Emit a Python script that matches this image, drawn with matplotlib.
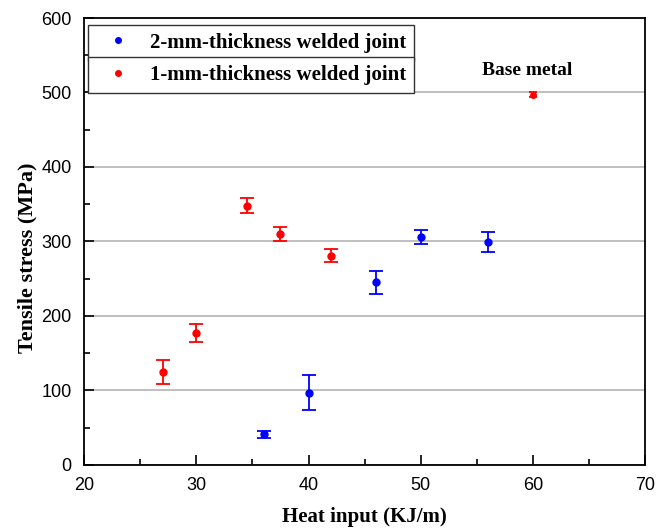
import matplotlib.pyplot as plt
from matplotlib.lines import Line2D

# 2-mm-thickness welded joint
x_2mm = [36, 40, 46, 50, 56]
y_2mm = [41, 97, 245, 306, 299]
err_2mm = [5, 23, 15, 10, 13]

# 1-mm-thickness welded joint
x_1mm = [27, 30, 34.5, 37.5, 42]
y_1mm = [125, 177, 348, 310, 281]
err_1mm = [16, 12, 10, 10, 9]

# base metal
x_base = [60]
y_base = [497]
err_base = [3]

serif = 'Liberation Serif'
sans = 'Liberation Sans'

fig = plt.figure(figsize=(6.57, 5.30), dpi=100)
ax = fig.add_axes([0.128, 0.123, 0.854, 0.843])

ax.errorbar(x_2mm, y_2mm, yerr=err_2mm, fmt='o', color='#0000ff', ms=5,
            capsize=5, elinewidth=1.3, capthick=1.3, zorder=3)
ax.errorbar(x_1mm, y_1mm, yerr=err_1mm, fmt='o', color='#ff0000', ms=5,
            capsize=5, elinewidth=1.3, capthick=1.3, zorder=3)
ax.errorbar(x_base, y_base, yerr=err_base, fmt='o', color='#ff0000', ms=4,
            capsize=3, elinewidth=1.3, capthick=1.3, zorder=3)

ax.text(59.5, 529, 'Base metal', ha='center', va='center',
        fontsize=14, fontweight='bold', family=serif)

ax.set_xlim(20, 70)
ax.set_ylim(0, 600)
ax.set_xticks(range(20, 71, 10))
ax.set_xticks(range(25, 70, 10), minor=True)
ax.set_yticks(range(0, 601, 100))
ax.set_yticks(range(50, 600, 100), minor=True)
ax.tick_params(which='both', direction='in', top=False, right=False)
ax.tick_params(which='major', length=7, width=1.2, labelsize=13)
ax.tick_params(axis='y', which='major', pad=9)
ax.tick_params(axis='x', which='major', pad=9)
ax.tick_params(which='minor', length=4, width=1.2)
for lab in ax.get_xticklabels() + ax.get_yticklabels():
    lab.set_family(sans)
for sp in ax.spines.values():
    sp.set_linewidth(1.3)
ax.yaxis.grid(True, color='#b4b4b4', linewidth=1.2)
ax.set_axisbelow(True)

ax.set_xlabel('Heat input (KJ/m)', fontsize=15, fontweight='bold',
              family=serif, labelpad=9)
ax.set_ylabel('Tensile stress (MPa)', fontsize=16, fontweight='bold',
              family=serif)
ax.yaxis.set_label_coords(-0.083, 0.463)

# two stacked legend boxes, like the original
h_blue = Line2D([], [], ls='none', marker='o', ms=4, color='#0000ff')
h_red = Line2D([], [], ls='none', marker='o', ms=4, color='#ff0000')
leg_font = {'family': serif, 'weight': 'bold', 'size': 15}
leg1 = ax.legend([h_blue], ['2-mm-thickness welded joint'], prop=leg_font,
                 loc='upper left', bbox_to_anchor=(0.007, 0.985), fancybox=False,
                 edgecolor='#333333', framealpha=1, borderpad=0.38,
                 handletextpad=0.5, handlelength=2.1, borderaxespad=0)
leg1.get_frame().set_linewidth(1.0)
ax.add_artist(leg1)
leg2 = ax.legend([h_red], ['1-mm-thickness welded joint'], prop=leg_font,
                 loc='upper left', bbox_to_anchor=(0.007, 0.913), fancybox=False,
                 edgecolor='#333333', framealpha=1, borderpad=0.38,
                 handletextpad=0.5, handlelength=2.1, borderaxespad=0)
leg2.get_frame().set_linewidth(1.0)

fig.savefig('out.png', dpi=100)
